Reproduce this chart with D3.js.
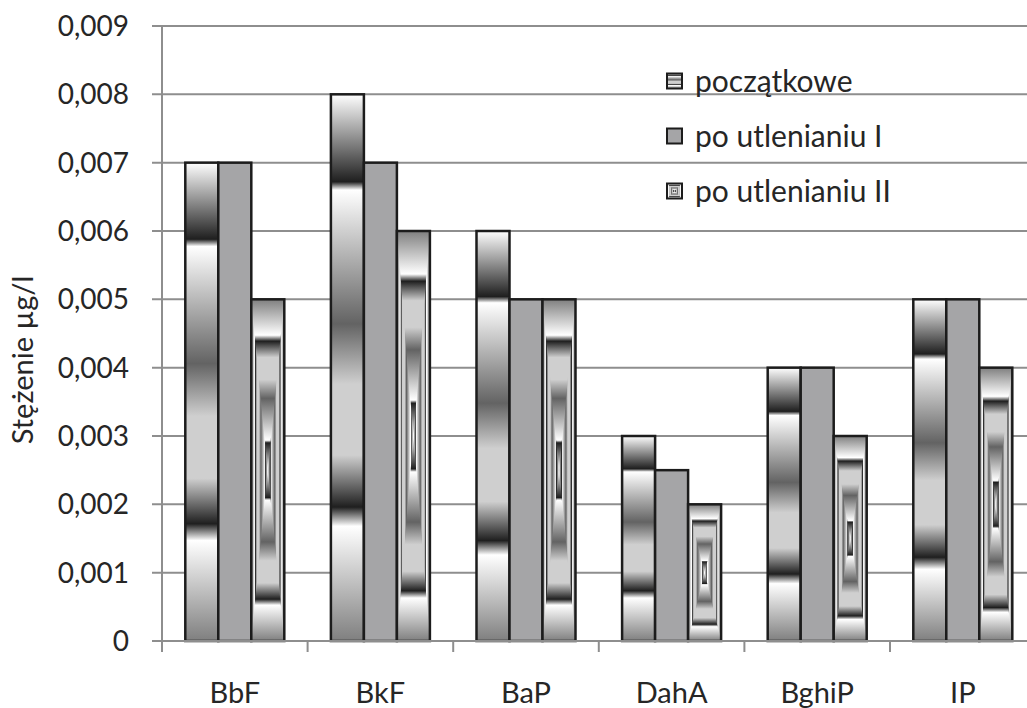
<!DOCTYPE html>
<html>
<head>
<meta charset="utf-8">
<script src="https://cdn.jsdelivr.net/npm/d3@7"></script>
<style>
  html, body { margin: 0; padding: 0; background: #ffffff; }
  svg { display: block; font-family: Lato, "Open Sans", sans-serif; }
</style>
</head>
<body>
<svg id="chart" width="1027" height="708"></svg>
<script>
// ---- data ----
const categories = ["BbF", "BkF", "BaP", "DahA", "BghiP", "IP"];
const seriesNames = ["początkowe", "po utlenianiu I", "po utlenianiu II"];
const poczatkowe = [0.007, 0.008, 0.006, 0.003, 0.004, 0.005];
const poUtlenianiuI = [0.007, 0.007, 0.005, 0.0025, 0.004, 0.005];
const poUtlenianiuII = [0.005, 0.006, 0.005, 0.002, 0.003, 0.004];
const yTicks = [0, 0.001, 0.002, 0.003, 0.004, 0.005, 0.006, 0.007, 0.008, 0.009];
const yTitle = "Stężenie µg/l";

const seriesValues = [poczatkowe, poUtlenianiuI, poUtlenianiuII];

// ---- layout ----
const W = 1027, H = 708;
const plot = { left: 162, top: 26, bottom: 641, right: 1035.6 };
const gridColor = "#8e8e8e";
const textColor = "#262626";
const outline = "#1c1c1c";

const svg = d3.select("#chart");

const x0 = d3.scaleBand().domain(categories).range([plot.left, plot.right]).paddingInner(0).paddingOuter(0);
const x1 = d3.scaleBand().domain(seriesNames).range([0, x0.bandwidth()]).paddingInner(0).paddingOuter(0.706);
const y = d3.scaleLinear().domain([0, 0.009]).range([plot.bottom, plot.top]);

// ---- gradients (Office "chrome" preset) ----
const chrome = [[0, "#ffffff"], [0.16, "#1f1f1f"], [0.175, "#ffffff"], [0.42, "#636363"],
                [0.53, "#cfcfcf"], [0.66, "#cfcfcf"], [0.755, "#1f1f1f"], [0.79, "#ffffff"], [1, "#7f7f7f"]];
const defs = svg.append("defs");

function addLinear(id, x1v, y1v, x2v, y2v, stops) {
  const g = defs.append("linearGradient").attr("id", id)
    .attr("x1", x1v).attr("y1", y1v).attr("x2", x2v).attr("y2", y2v);
  g.selectAll("stop").data(stops).join("stop")
    .attr("offset", d => d[0]).attr("stop-color", d => d[1]);
}
addLinear("chromeV", 0, 0, 0, 1, chrome);
// symmetric (edge -> center -> edge) for rectangular "from center" fill
const symStops = chrome.slice().reverse().map(d => [0.5 * (1 - d[0]), d[1]])
  .concat(chrome.map(d => [0.5 + 0.5 * d[0], d[1]]));
addLinear("rectV", 0, 0, 0, 1, symStops);
addLinear("rectH", 0, 0, 1, 0, symStops);

// ---- gridlines & y axis ----
const grid = svg.append("g");
grid.selectAll("line").data(yTicks).join("line")
  .attr("x1", plot.left - 10).attr("x2", W)
  .attr("y1", d => y(d)).attr("y2", d => y(d))
  .attr("stroke", gridColor).attr("stroke-width", 2);

svg.append("line")
  .attr("x1", plot.left).attr("x2", plot.left)
  .attr("y1", y(0.009)).attr("y2", y(0))
  .attr("stroke", gridColor).attr("stroke-width", 2);

const fmt = v => v === 0 ? "0" : d3.format(".3f")(v).replace(".", ",");
svg.append("g").selectAll("text").data(yTicks).join("text")
  .attr("x", 129).attr("y", d => y(d))
  .attr("dy", "0.36em")
  .attr("text-anchor", "end")
  .attr("font-size", 28).attr("fill", textColor)
  .text(fmt);

svg.append("text")
  .attr("transform", `translate(33, 360) rotate(-90)`)
  .attr("text-anchor", "middle")
  .attr("font-size", 29).attr("fill", textColor)
  .text(yTitle);

// ---- bars ----
const barData = [];
categories.forEach((c, ci) => {
  seriesNames.forEach((s, si) => {
    barData.push({ cat: c, series: s, si: si, value: seriesValues[si][ci] });
  });
});

const bars = svg.append("g");
barData.forEach(d => {
  const bx = x0(d.cat) + x1(d.series);
  const bw = x1.bandwidth();
  const by = y(d.value);
  const bh = y(0) - y(d.value);
  const g = bars.append("g");
  if (d.si === 0) {
    g.append("rect").attr("x", bx).attr("y", by).attr("width", bw).attr("height", bh)
      .attr("fill", "url(#chromeV)");
  } else if (d.si === 1) {
    g.append("rect").attr("x", bx).attr("y", by).attr("width", bw).attr("height", bh)
      .attr("fill", "#a5a5a7");
  } else {
    g.append("rect").attr("x", bx).attr("y", by).attr("width", bw).attr("height", bh)
      .attr("fill", "url(#rectV)");
    const cx = bx + bw / 2, cy = by + bh / 2;
    const p = `M${bx},${by}L${cx},${cy}L${bx},${by + bh}Z M${bx + bw},${by}L${cx},${cy}L${bx + bw},${by + bh}Z`;
    g.append("path").attr("d", p).attr("fill", "url(#rectH)");
  }
  g.append("rect").attr("x", bx).attr("y", by).attr("width", bw).attr("height", bh)
    .attr("fill", "none").attr("stroke", outline).attr("stroke-width", 2.5);
});

// ---- x axis ----
svg.append("line")
  .attr("x1", plot.left).attr("x2", W)
  .attr("y1", y(0)).attr("y2", y(0))
  .attr("stroke", gridColor).attr("stroke-width", 2);

const tickXs = categories.map(c => x0(c)).concat([x0(categories[categories.length - 1]) + x0.bandwidth()]);
svg.append("g").selectAll("line").data(tickXs).join("line")
  .attr("x1", d => d).attr("x2", d => d)
  .attr("y1", y(0)).attr("y2", y(0) + 11)
  .attr("stroke", gridColor).attr("stroke-width", 2);

svg.append("g").selectAll("text").data(categories).join("text")
  .attr("x", d => x0(d) + x0.bandwidth() / 2).attr("y", 703)
  .attr("text-anchor", "middle")
  .attr("font-size", 29).attr("fill", textColor)
  .text(d => d);

// ---- legend ----
const legendY = [81, 136, 191];
const legend = svg.append("g");
seriesNames.forEach((s, i) => {
  const ly = legendY[i];
  const mx = 667, ms = 15, my = ly - ms / 2;
  const g = legend.append("g");
  if (i === 0) {
    g.append("rect").attr("x", mx).attr("y", my).attr("width", ms).attr("height", ms).attr("fill", "url(#chromeV)");
  } else if (i === 1) {
    g.append("rect").attr("x", mx).attr("y", my).attr("width", ms).attr("height", ms).attr("fill", "#a5a5a7");
  } else {
    g.append("rect").attr("x", mx).attr("y", my).attr("width", ms).attr("height", ms).attr("fill", "url(#rectV)");
    const cx = mx + ms / 2, cy = my + ms / 2;
    g.append("path")
      .attr("d", `M${mx},${my}L${cx},${cy}L${mx},${my + ms}Z M${mx + ms},${my}L${cx},${cy}L${mx + ms},${my + ms}Z`)
      .attr("fill", "url(#rectH)");
  }
  g.append("rect").attr("x", mx).attr("y", my).attr("width", ms).attr("height", ms)
    .attr("fill", "none").attr("stroke", outline).attr("stroke-width", 2);
  g.append("text").attr("x", 695).attr("y", ly).attr("dy", "0.36em")
    .attr("font-size", 30).attr("fill", textColor).text(s);
});
</script>
</body>
</html>
